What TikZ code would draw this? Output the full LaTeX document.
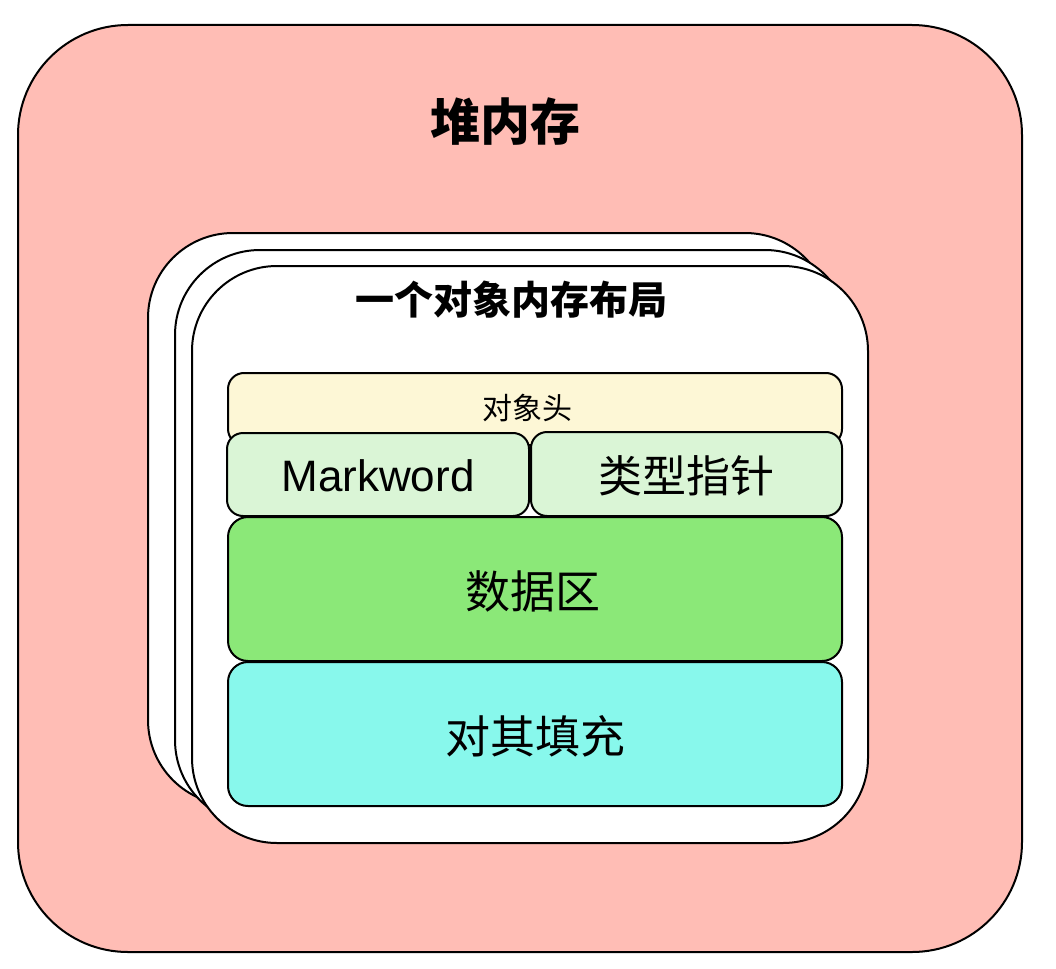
\documentclass[tikz,border=0pt]{standalone}
\usepackage{fontspec}
\setmainfont{Liberation Sans}
\newfontfamily\cjk{Noto Sans CJK SC}
\definecolor{heap}{HTML}{FFBDB5}
\definecolor{hdr}{HTML}{FDF7D6}
\definecolor{mk}{HTML}{DAF5D6}
\definecolor{data}{HTML}{8BE878}
\definecolor{pad}{HTML}{88F8EC}
\begin{document}
\begin{tikzpicture}[x=1pt,y=-1pt,
  bx/.style={draw=black,line width=2pt,rounded corners=#1},
  bx/.default=16pt]
\useasboundingbox (0,0) rectangle (1056,968);
\draw[bx=110pt,fill=heap] (18,25) rectangle (1022,952);
\node[font=\cjk\bfseries\fontsize{50}{50}\selectfont] (heaplbl) at (505,122) {堆内存};
\draw[bx=85pt,fill=white] (148,233) rectangle (830,805);
\draw[bx=85pt,fill=white] (175,250) rectangle (850,825);
\draw[bx=85pt,fill=white] (192,266) rectangle (868,843);
\node[font=\cjk\bfseries\fontsize{39}{39}\selectfont] (obj) at (511,300) {一个对象内存布局};
\draw[bx,fill=hdr] (228,373) rectangle (842,445);
\node[font=\cjk\fontsize{30}{30}\selectfont] (hd) at (527,408) {对象头};
\draw[bx,fill=mk] (227,433) rectangle (529,516);
\node[font=\fontsize{44}{44}\selectfont] (mw) at (378,476) {Markword};
\draw[bx,fill=mk] (531,432) rectangle (842,516);
\node[font=\cjk\fontsize{44}{44}\selectfont] (tp) at (686,476) {类型指针};
\draw[bx=20pt,fill=data] (228,517) rectangle (842,661);
\node[font=\cjk\fontsize{45}{45}\selectfont] (dt) at (533,591) {数据区};
\draw[bx=20pt,fill=pad] (228,662) rectangle (842,806);
\node[font=\cjk\fontsize{45}{45}\selectfont] (pd) at (535,736) {对其填充};
\end{tikzpicture}
\end{document}
